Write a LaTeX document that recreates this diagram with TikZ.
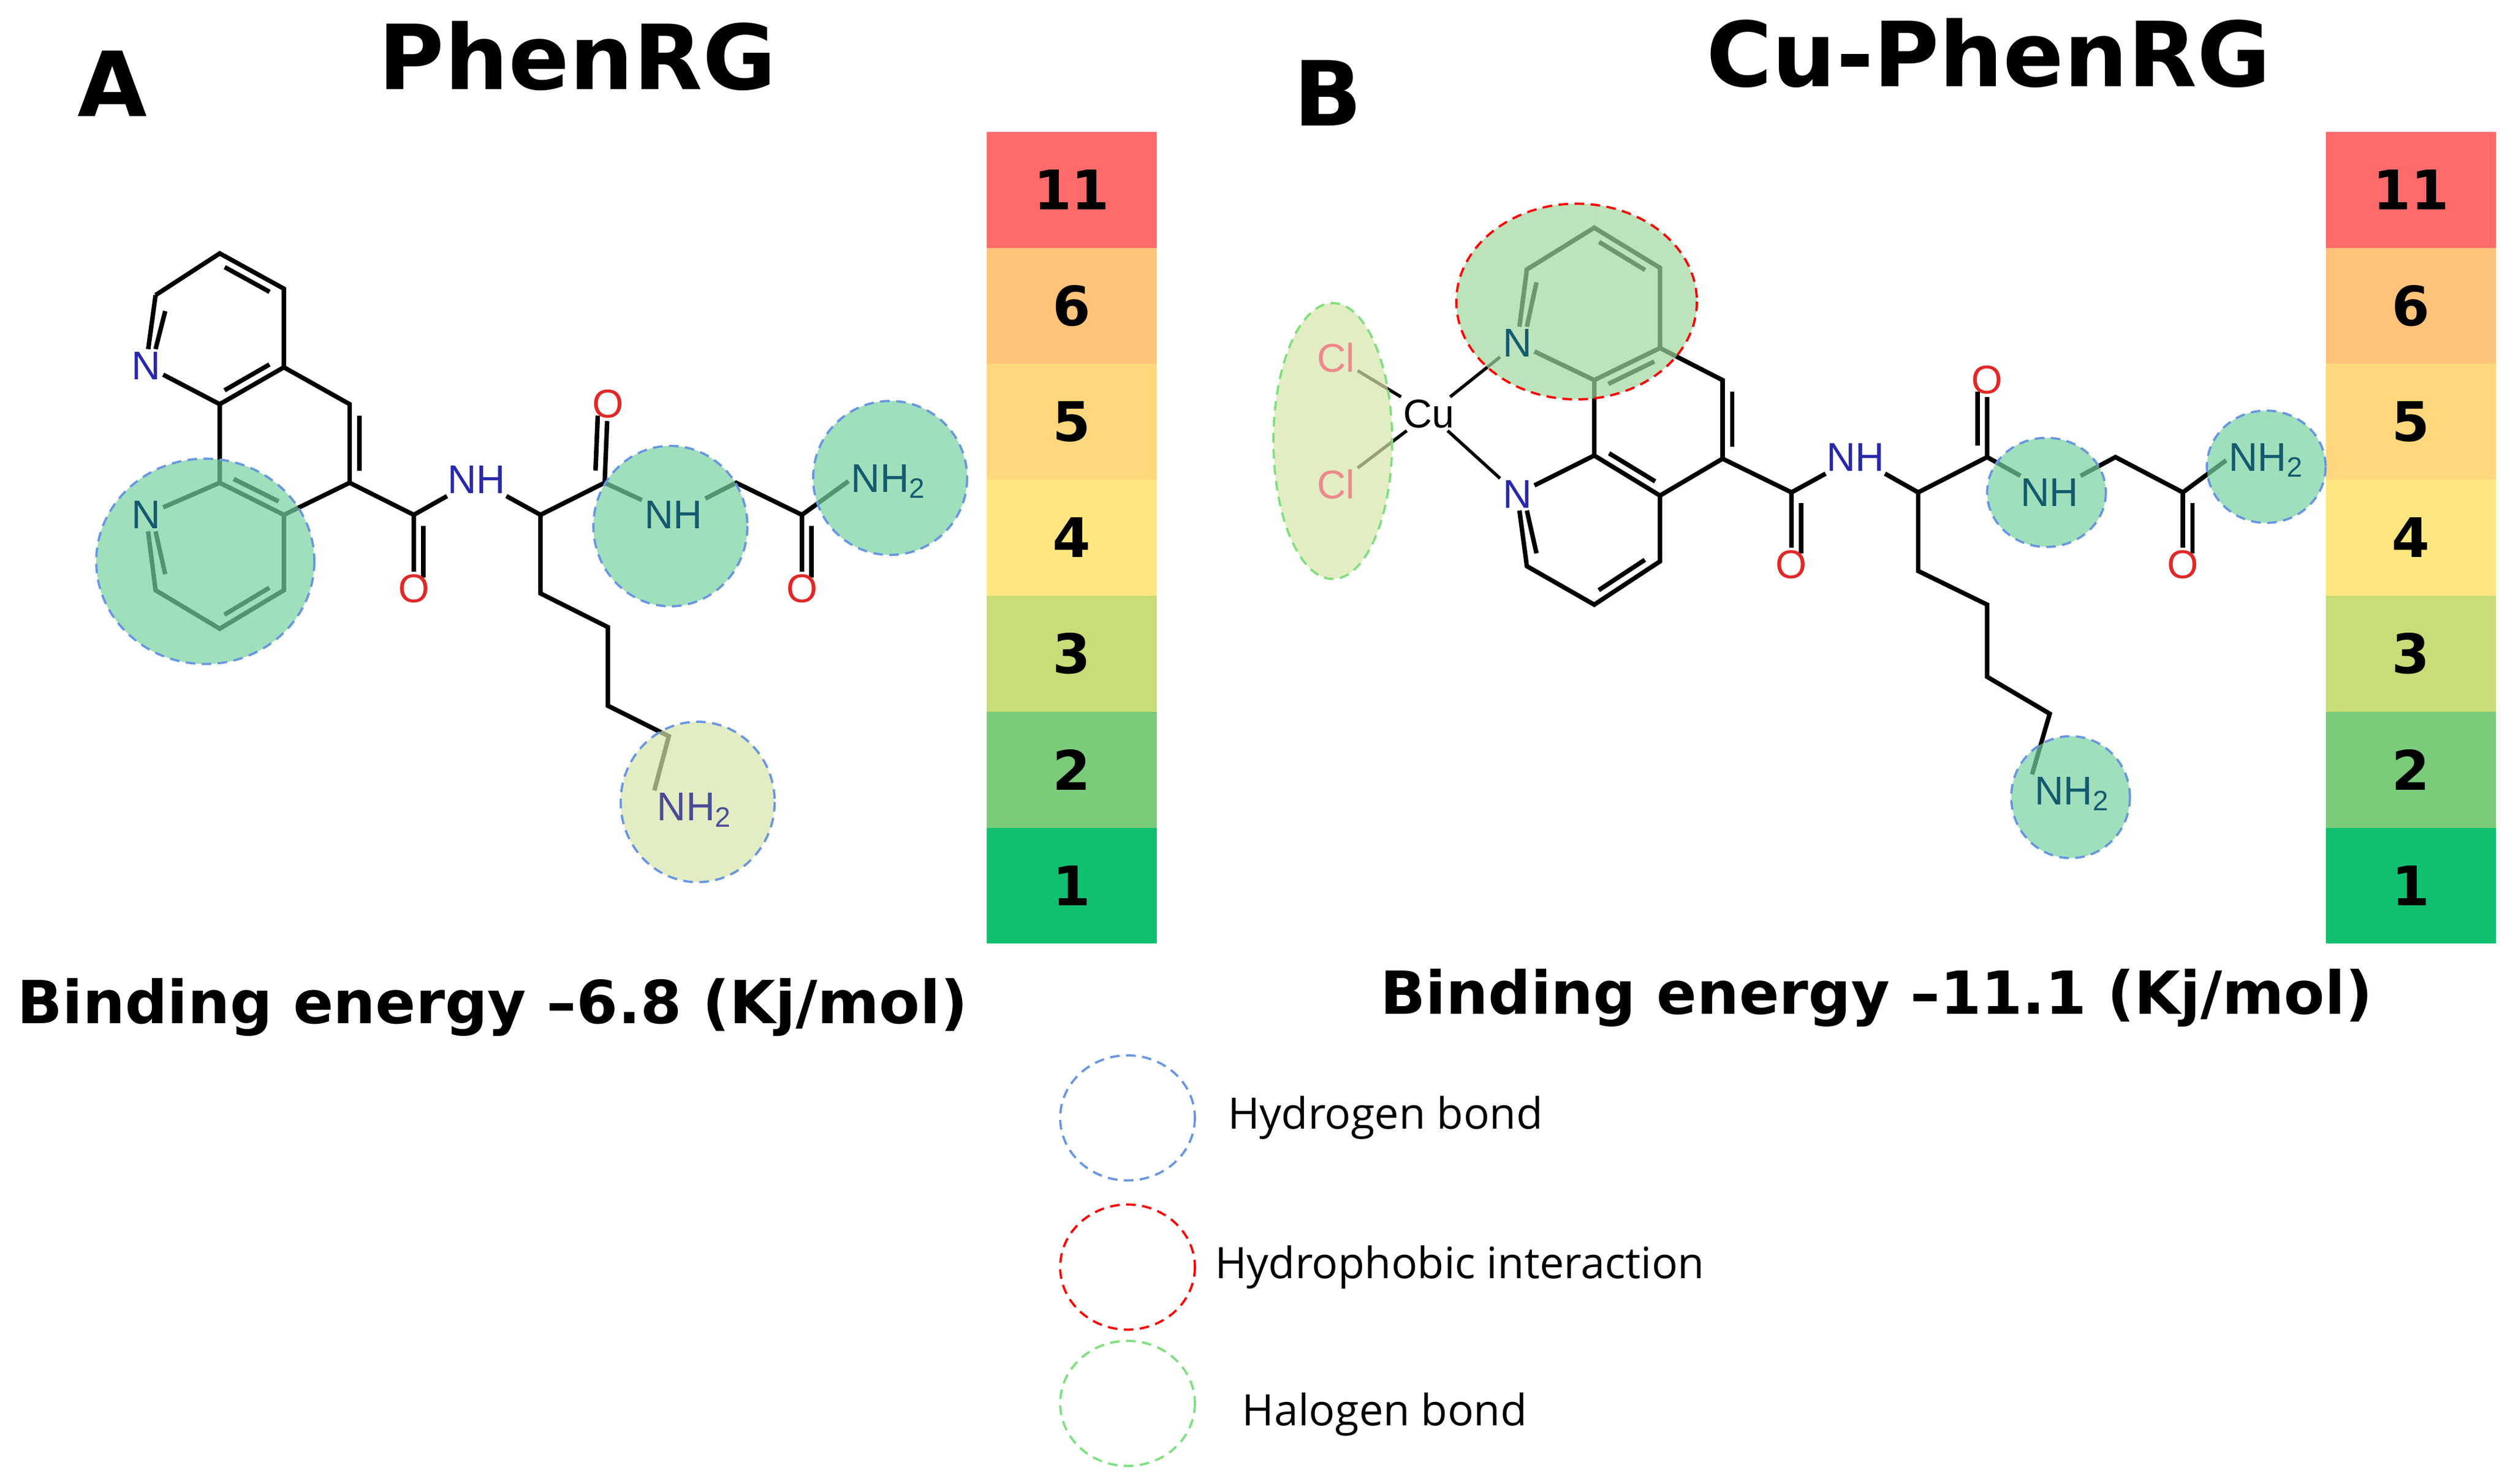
\documentclass[tikz,border=0pt]{standalone}
\usepackage{fontspec}
\setmainfont{DejaVu Sans}
\newfontfamily\atomf{Liberation Sans}
\newfontfamily\legf{Open Sans}
\usetikzlibrary{calc}
\pgfdeclarelayer{fg}\pgfsetlayers{main,fg}
\definecolor{cA}{RGB}{255,107,107}\definecolor{cB}{RGB}{255,196,122}
\definecolor{cC}{RGB}{255,216,125}\definecolor{cD}{RGB}{255,230,128}
\definecolor{cE}{RGB}{200,220,120}\definecolor{cF}{RGB}{122,203,122}
\definecolor{cG}{RGB}{16,192,112}
\definecolor{hb}{RGB}{105,150,225}\definecolor{grn}{RGB}{120,210,160}
\definecolor{ylg}{RGB}{215,230,170}\definecolor{ltg}{RGB}{160,215,160}
\definecolor{nb}{RGB}{40,40,170}\definecolor{orr}{RGB}{225,40,40}
\definecolor{tl}{RGB}{20,90,110}
\tikzset{
 bd/.style={line width=2.8pt,black},
 atom/.style={font=\atomf\fontsize{25}{25}\selectfont,inner sep=1.5pt},
 nat/.style={atom,text=nb},
 tat/.style={atom,text=tl},
 oat/.style={atom,text=orr},
 hbc/.style={draw=hb,dash pattern=on 6pt off 4pt,line width=1.4pt,fill=grn,fill opacity=0.7,draw opacity=1},
 bar/.style={minimum width=106pt,minimum height=72.3pt,inner sep=0,font=\bfseries\fontsize{34}{34}\selectfont,anchor=north west},
 leg/.style={font=\legf\fontsize{27}{27}\selectfont,anchor=west},
 ttl/.style={font=\bfseries\fontsize{56}{56}\selectfont},
 be/.style={font=\bfseries\fontsize{37}{37}\selectfont},
}
\newcommand{\dbl}[3]{\draw[bd] ($($(#1)!0.15!(#2)$)!6pt!#3:(#2)$) -- ($($(#2)!0.15!(#1)$)!6pt!-#3:(#1)$);}
\begin{document}
\begin{tikzpicture}[x=1pt,y=-1pt]
\useasboundingbox (0,0) rectangle (1565,925);
% ---------- titles
\node[ttl] (tA) at (70,52) {A};
\node[ttl] (t1) at (360,35) {PhenRG};
\node[ttl] (tB) at (828,58) {B};
\node[ttl] (t2) at (1240,33) {Cu-PhenRG};
\node[be] (e1) at (307,628) {Binding energy \textendash6.8 (Kj/mol)};
\node[be] (e2) at (1170,622) {Binding energy \textendash11.1 (Kj/mol)};
% ---------- bars
\foreach \X/\n in {615/a,1450/b}{
 \node[bar,fill=cA] (\n11) at (\X,82) {11};
 \node[bar,fill=cB] (\n6) at (\X,154.3) {6};
 \node[bar,fill=cC] (\n5) at (\X,226.6) {5};
 \node[bar,fill=cD] (\n4) at (\X,298.9) {4};
 \node[bar,fill=cE] (\n3) at (\X,371.2) {3};
 \node[bar,fill=cF] (\n2) at (\X,443.5) {2};
 \node[bar,fill=cG] (\n1) at (\X,515.8) {1};
}
% ---------- atom labels (front layer)
\begin{pgfonlayer}{fg}
\node[nat] (aN1) at (91,228) {N};
\node[tat] (aN2) at (91,321) {N};
\node[oat] (aO1) at (258,367) {O};
\node[nat] (aNH1) at (297,299) {NH};
\node[oat] (aO2) at (379,252) {O};
\node[tat] (aNH2) at (420,321) {NH};
\node[oat] (aO3) at (500,367) {O};
\node[tat,anchor=west] (aNH3) at (529,300) {NH\textsubscript{2}};
\node[atom,text=nb!60!gray,anchor=west] (aNH4) at (408,505) {NH\textsubscript{2}};
\node[atom,text=orr!55] (Cl1) at (833,223) {Cl};
\node[atom,text=orr!55] (Cl2) at (833,302) {Cl};
\node[atom] (Cu) at (891,258) {Cu};
\node[tat] (bN1) at (946,214) {N};
\node[nat] (bN2) at (946,308) {N};
\node[oat] (bO1) at (1117,352) {O};
\node[nat] (bNH1) at (1157,285) {NH};
\node[oat] (bO2) at (1239,237) {O};
\node[tat] (bNH2) at (1278,307) {NH};
\node[oat] (bO3) at (1361,352) {O};
\node[tat,anchor=west] (bNH3) at (1388,287) {NH\textsubscript{2}};
\node[tat,anchor=west] (bNH4) at (1267,495) {NH\textsubscript{2}};
\end{pgfonlayer}
% ---------- molecule A
\coordinate (a1) at (137,158); \coordinate (a2) at (177,180); \coordinate (a3) at (177,229);
\coordinate (a4) at (137,252); \coordinate (a6) at (97,184);
\coordinate (m1) at (218,252); \coordinate (m2) at (218,301);
\coordinate (b2) at (177,321); \coordinate (b3) at (137,301);
\coordinate (b4) at (177,368); \coordinate (b5) at (137,392); \coordinate (b6) at (97,368);
\coordinate (ac1) at (258,321);
\coordinate (ach) at (337,321); \coordinate (ac2) at (377,301);
\coordinate (ach2) at (459,301); \coordinate (ac3) at (500,321);
\coordinate (k1) at (337,370); \coordinate (k2) at (379,391); \coordinate (k3) at (379,440);
\coordinate (k4) at (417,459);
\draw[bd] (a6)--(a1)--(a2)--(a3)--(a4) (a6)--(aN1) (aN1)--(a4) (a3)--(m1)--(m2)--(b2)--(b3)--(a4)
 (b2)--(b4)--(b5)--(b6)--(aN2) (aN2)--(b3)
 (m2)--(ac1)--(aO1) (ac1)--(aNH1) (aNH1)--(ach)--(ac2)--(aO2) (ac2)--(aNH2) (aNH2)--(ach2)--(ac3)--(aO3) (ac3)--(aNH3.west)
 (ach)--(k1)--(k2)--(k3)--(k4)--(aNH4.north west);
\dbl{a1}{a2}{-90}\dbl{a3}{a4}{-90}\draw[bd] ($(a6)+(6,10)$)--($(aN1.north)+(6,0)$);
\dbl{m1}{m2}{90}\dbl{b3}{b2}{90}\dbl{b4}{b5}{-90}\draw[bd] ($(aN2.south)+(6,0)$)--($(b6)+(6,-10)$);
\dbl{ac1}{aO1}{90}\dbl{ac2}{aO2}{90}\dbl{ac3}{aO3}{90}
\path[hbc] (128,350) ellipse (68 and 64);
\path[hbc] (418,328) ellipse (48 and 50);
\path[hbc] (555,298) ellipse (48 and 48);
\path[hbc,fill=ylg] (435,500) ellipse (48 and 50);
% ---------- molecule B
\coordinate (u1) at (952,168); \coordinate (u2) at (994,142); \coordinate (u3) at (1035,167);
\coordinate (u4) at (1035,217); \coordinate (u5) at (994,237);
\coordinate (v1) at (1074,237); \coordinate (v2) at (1074,286); \coordinate (v3) at (1035,309);
\coordinate (v4) at (994,284);
\coordinate (w1) at (1035,350); \coordinate (w2) at (994,377); \coordinate (w3) at (952,353);
\coordinate (bc1) at (1117,307);
\coordinate (bch) at (1196,307); \coordinate (bc2) at (1239,285);
\coordinate (bch2) at (1319,285); \coordinate (bc3) at (1361,307);
\coordinate (j1) at (1196,356); \coordinate (j2) at (1239,377); \coordinate (j3) at (1239,422);
\coordinate (j4) at (1278,445);
\draw[bd,line width=2pt] (Cl1)--(Cu) (Cl2)--(Cu) (Cu)--(bN1) (Cu)--(bN2);
\draw[bd] (bN1)--(u1)--(u2)--(u3)--(u4)--(u5) (bN1)--(u5) (u4)--(v1)--(v2)--(v3)--(v4)--(u5)
 (v3)--(w1)--(w2)--(w3)--(bN2) (bN2)--(v4)
 (v2)--(bc1)--(bO1) (bc1)--(bNH1) (bNH1)--(bch)--(bc2)--(bO2) (bc2)--(bNH2) (bNH2)--(bch2)--(bc3)--(bO3) (bc3)--(bNH3.west)
 (bch)--(j1)--(j2)--(j3)--(j4)--(bNH4.north west);
\draw[bd] ($(u1)+(6,8)$)--($(bN1.north)+(6,0)$);
\dbl{u2}{u3}{-90}\dbl{u5}{u4}{-90}\dbl{v1}{v2}{90}\dbl{v4}{v3}{90}\dbl{w1}{w2}{-90}
\draw[bd] ($(bN2.south)+(6,0)$)--($(w3)+(6,-8)$);
\dbl{bc1}{bO1}{90}\dbl{bc2}{bO2}{90}\dbl{bc3}{bO3}{90}
\path[hbc,draw=red,fill=ltg] (983,188) ellipse (75 and 61);
\path[hbc,draw=ltg!80!green,fill=ylg] (831,275) ellipse (37 and 86);
\path[hbc] (1276,307) ellipse (37 and 34);
\path[hbc] (1413,291) ellipse (37 and 35);
\path[hbc] (1291,497) ellipse (37 and 38);
% ---------- legend
\path[hbc,fill=none] (703,697) ellipse (42 and 39) node (l1) {};
\path[hbc,fill=none,draw=red] (703,790) ellipse (42 and 39) node (l2) {};
\path[hbc,fill=none,draw=ltg!80!green] (703,875) ellipse (42 and 39) node (l3) {};
\node[leg] (t_l1) at (762,697) {Hydrogen bond};
\node[leg] (t_l2) at (754,790) {Hydrophobic interaction};
\node[leg] (t_l3) at (771,882) {Halogen bond};
\end{tikzpicture}
\end{document}
